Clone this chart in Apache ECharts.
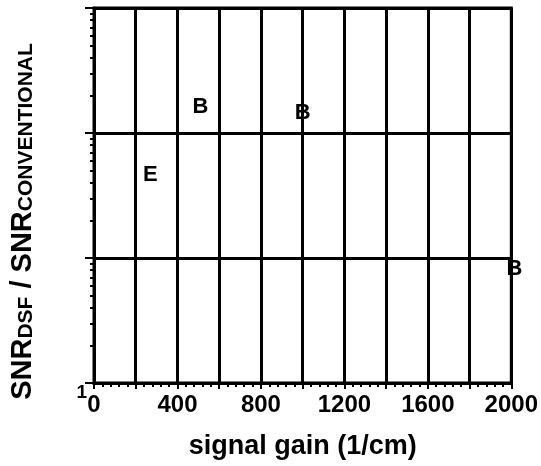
<!DOCTYPE html>
<html>
<head>
<meta charset="utf-8">
<script src="https://cdn.jsdelivr.net/npm/echarts@6/dist/echarts.min.js"></script>
<style>
  html, body { margin: 0; padding: 0; background: #fff; }
  #chart { width: 541px; height: 466px; }
</style>
</head>
<body>
<div id="chart"></div>
<script>
// values
var gainB = [510, 1000, 2015];
var ratioB = [163, 145, 8.2];
var gainE = [270];
var ratioE = [46];

var xTickLabels = ['0', '400', '800', '1200', '1600', '2000'];
var yTickLabels = ['1'];
var yMinorTicks = [2, 3, 4, 5, 6, 7, 8, 9, 20, 30, 40, 50, 60, 70, 80, 90, 200, 300, 400, 500, 600, 700, 800, 900];

function pairs(xs, ys) {
  var out = [];
  for (var i = 0; i < xs.length; i++) {
    out.push([xs[i], ys[i]]);
  }
  return out;
}

var chart = echarts.init(document.getElementById('chart'), null, { renderer: 'canvas' });

var font = 'Liberation Sans';

var markLabel = function (txt) {
  return {
    show: true,
    position: 'inside',
    formatter: txt,
    fontFamily: font,
    fontSize: 22,
    fontWeight: 'bold',
    color: '#000',
    opacity: 1,
    textBorderWidth: 0,
    textShadowBlur: 0
  };
};

var option = {
  backgroundColor: '#fff',
  animation: false,
  grid: {
    left: 94,
    right: 28,
    top: 8,
    bottom: 83,
    show: true,
    borderColor: '#000',
    borderWidth: 3
  },
  xAxis: {
    type: 'value',
    min: 0,
    max: 2000,
    interval: 200,
    name: 'signal gain (1/cm)',
    nameLocation: 'middle',
    nameGap: 50,
    nameTextStyle: { fontFamily: font, fontSize: 27, fontWeight: 'bold', color: '#000' },
    axisLine: { show: true, onZero: false, lineStyle: { color: '#000', width: 3 } },
    axisTick: { show: true, inside: false, length: 6, lineStyle: { color: '#000', width: 2 } },
    minorTick: { show: true, splitNumber: 5, length: 4, lineStyle: { color: '#000', width: 2 } },
    axisLabel: {
      margin: 10,
      fontFamily: font,
      fontSize: 24,
      fontWeight: 'bold',
      color: '#000',
      formatter: function (v) {
        return xTickLabels.indexOf(String(v)) >= 0 ? String(v) : '';
      }
    },
    splitLine: { show: true, lineStyle: { color: '#000', width: 3 } }
  },
  yAxis: [{
    type: 'log',
    logBase: 10,
    min: 1,
    max: 1000,
    name: '{m|SNR}{s|DSF}{m| / SNR}{s|CONVENTIONAL}',
    nameLocation: 'middle',
    nameRotate: 90,
    nameGap: 57,
    nameTextStyle: {
      padding: [0, 52, 0, 0],
      rich: {
        m: { fontFamily: font, fontSize: 29, fontWeight: 'bold', color: '#000', verticalAlign: 'bottom', lineHeight: 31 },
        s: { fontFamily: font, fontSize: 21, fontWeight: 'bold', color: '#000', verticalAlign: 'bottom', lineHeight: 25 }
      }
    },
    axisLine: { show: true, lineStyle: { color: '#000', width: 3 } },
    axisTick: { show: true, inside: false, length: 9, lineStyle: { color: '#000', width: 2 } },
    axisLabel: {
      margin: 7,
      verticalAlign: 'top',
      fontFamily: font,
      fontSize: 19,
      fontWeight: 'bold',
      color: '#000',
      formatter: function (v) {
        return yTickLabels.indexOf(String(v)) >= 0 ? String(v) : '';
      }
    },
    splitLine: { show: true, lineStyle: { color: '#000', width: 3 } }
  }, {
    // only used for the small log ticks
    type: 'log',
    logBase: 10,
    min: 1,
    max: 1000,
    position: 'left',
    axisLine: { show: false },
    axisLabel: { show: false },
    splitLine: { show: false },
    axisTick: { show: true, inside: false, length: 4, customValues: yMinorTicks, lineStyle: { color: '#000', width: 2 } }
  }],
  series: [{
    name: 'B',
    type: 'scatter',
    clip: false,
    symbol: 'circle',
    symbolSize: 10,
    itemStyle: { color: '#fff', opacity: 0 },
    label: markLabel('B'),
    data: pairs(gainB, ratioB)
  }, {
    name: 'E',
    type: 'scatter',
    clip: false,
    symbol: 'circle',
    symbolSize: 10,
    itemStyle: { color: '#fff', opacity: 0 },
    label: markLabel('E'),
    data: pairs(gainE, ratioE)
  }]
};

chart.setOption(option);
</script>
</body>
</html>
